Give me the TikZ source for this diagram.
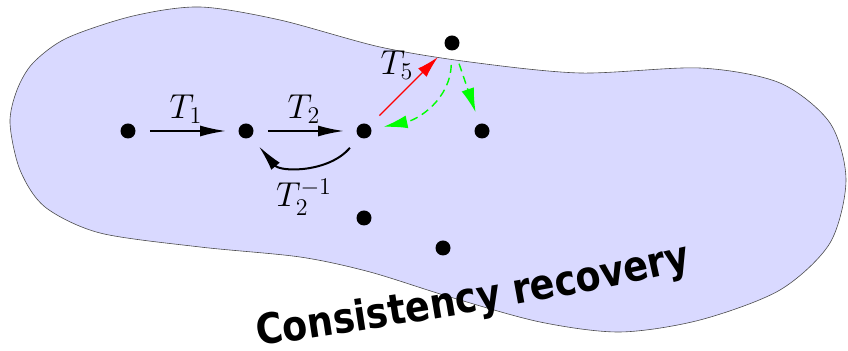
\documentclass[tikz,border=0pt]{standalone}
\usepackage{fontspec}
\usetikzlibrary{arrows.meta,decorations.text}
\newfontfamily\crfont[FakeStretch=0.87]{DejaVu Sans}
\newcommand\crstyle{\crfont\bfseries\fontsize{21}{25}\selectfont}
\definecolor{regionfill}{RGB}{217,217,255}
\begin{document}
\begin{tikzpicture}[x=0.5pt, y=0.5pt, font=\LARGE,
  dot/.style={circle, fill=black, inner sep=0pt, minimum size=7.5pt},
  move/.style={line width=1pt, -{Latex[length=13pt,width=5.5pt]}, shorten <=7pt, shorten >=6pt},
  repair/.style={red, line width=0.7pt, -{Latex[length=11pt,width=6pt]}, shorten <=7pt, shorten >=6pt},
  recover/.style={green, line width=0.7pt, dash pattern=on 4pt off 2.5pt, -{Latex[length=12pt,width=6.5pt]}, shorten <=7pt, shorten >=6pt}]
  \useasboundingbox (0,0) rectangle (848,-351);
  \filldraw[fill=regionfill, draw=black!70, line width=0.3pt]
    plot[smooth cycle] coordinates {(10,-123) (17,-90) (33,-63) (67,-38) (133,-16) (200,-7) (280,-20)
      (380,-47) (470,-62) (580,-73) (700,-68) (780,-83) (830,-123) (846,-180) (830,-243)
      (780,-290) (700,-320) (620,-332) (540,-322) (450,-297) (370,-272) (300,-257)
      (200,-247) (100,-233) (45,-207) (20,-170)};
  \foreach \n/\x/\y in {p1/128/131, p2/246/131, p3/364/131, p4/452/43, p5/482/131, p6/364/218, p7/443/248}
    \node[dot] (\n) at (\x,-\y) {};
  \draw[move] (p1) -- (p2);
  \draw[move] (p2) -- (p3);
  \draw[move] (p3) to[out=230, in=310, looseness=1.1] (p2);
  \draw[repair] (p3) -- (p4);
  \draw[recover] (p4) to[out=268, in=12, looseness=1.1] (p3);
  \draw[recover] (p4) -- (p5);
  \node (l1) at (186,-109) {$T_1$};
  \node (l2) at (304,-109) {$T_2$};
  \node (l3) at (304,-197) {$T_2^{-1}$};
  \node (l5) at (397,-65) {$T_5$};
  \path[decorate, decoration={text along path, text={|\crstyle|Consistency recovery}}]
    (258,-346) .. controls (420,-322) and (560,-300) .. (695,-268);
\end{tikzpicture}
\end{document}
